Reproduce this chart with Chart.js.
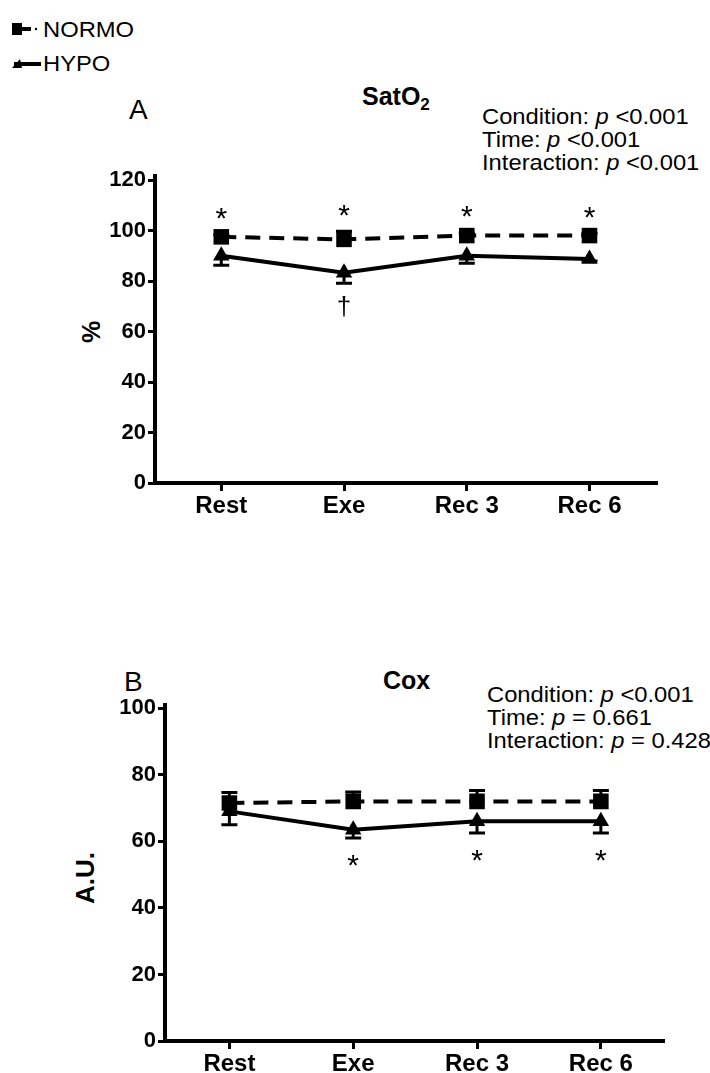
<!DOCTYPE html>
<html><head><meta charset="utf-8">
<script src="https://cdn.jsdelivr.net/npm/chart.js@4.4.0/dist/chart.umd.min.js"></script>
<style>
html,body{margin:0;padding:0;background:#fff}
body{width:710px;height:1073px;position:relative;overflow:hidden;font-family:"Liberation Sans",Arial,sans-serif;color:#000}
.t{position:absolute;white-space:nowrap;line-height:1}
.sx{transform:scaleX(1.08);transform-origin:0 0}
canvas{position:absolute;left:0}
</style></head><body>

<svg style="position:absolute;left:0;top:0" width="45" height="80">
  <rect x="12" y="23" width="10" height="12" fill="#000"/>
  <line x1="22" y1="29" x2="31" y2="29" stroke="#000" stroke-width="4"/>
  <circle cx="36" cy="29" r="1.2" fill="#000"/>
  <polygon points="12,68 20,59 22,68" fill="#000"/>
  <line x1="14" y1="64" x2="41" y2="64" stroke="#000" stroke-width="4"/>
</svg>
<div class="t sx" style="left:43px;top:19px;font-size:22px">NORMO</div>
<div class="t sx" style="left:43px;top:53px;font-size:22px">HYPO</div>

<div class="t" style="left:129px;top:96px;font-size:28px">A</div>
<div class="t" style="left:362px;top:84px;font-size:25px;font-weight:bold">SatO<sub style="font-size:17px;vertical-align:-5px">2</sub></div>
<div class="t sx" style="left:482px;top:105px;font-size:22px;line-height:23px">Condition: <i>p</i> &lt;0.001<br>Time: <i>p</i> &lt;0.001<br>Interaction: <i>p</i> &lt;0.001</div>
<div class="t" style="left:80px;top:332px;font-size:25px;font-weight:bold;transform:translate(0,-50%) rotate(-90deg)">%</div>

<div class="t" style="left:124px;top:668px;font-size:28px">B</div>
<div class="t" style="left:383px;top:668px;font-size:25px;font-weight:bold">Cox</div>
<div class="t sx" style="left:487px;top:683px;font-size:22px;line-height:23px">Condition: <i>p</i> &lt;0.001<br>Time: <i>p</i> = 0.661<br>Interaction: <i>p</i> = 0.428</div>
<div class="t" style="left:59px;top:878px;font-size:26px;font-weight:bold;transform:translate(0,-50%) rotate(-90deg)">A.U.</div>

<canvas id="cA" width="710" height="380" style="top:150px;width:710px;height:380px"></canvas>
<canvas id="cB" width="710" height="383" style="top:690px;width:710px;height:383px"></canvas>

<script>
const categories = ['Rest', 'Exe', 'Rec 3', 'Rec 6'];

const satNormo    = [97.5, 96.5, 98.0, 98.0];
const satNormoErr = [0.8, 3.2, 1.0, 0.8];
const satHypo     = [90.0, 83.3, 90.0, 88.7];
const satHypoErr  = [3.8, 4.2, 3.0, 0.8];
const satTicks    = [0, 20, 40, 60, 80, 100, 120];
const satNormoMarks = ['*', '*', '*', '*'];
const satHypoMarks  = ['', '\u2020', '', ''];

const coxNormo    = [71.5, 72.0, 72.0, 72.0];
const coxNormoErr = [3.2, 2.8, 3.3, 3.3];
const coxHypo     = [69.0, 63.5, 66.0, 66.0];
const coxHypoErr  = [4.0, 2.5, 3.5, 3.5];
const coxTicks    = [0, 20, 40, 60, 80, 100];
const coxNormoMarks = ['', '', '', ''];
const coxHypoMarks  = ['', '*', '*', '*'];

const FONT = '"Liberation Sans", Arial, sans-serif';

const errorBars = {
  id: 'errorBars',
  beforeDatasetsDraw(chart) {
    const ctx = chart.ctx, xs = chart.scales.x, ys = chart.scales.y;
    ctx.save();
    ctx.strokeStyle = '#000';
    ctx.lineWidth = 3;
    chart.data.datasets.forEach(ds => {
      ds.data.forEach((p, i) => {
        const x = xs.getPixelForValue(p.x);
        const y0 = ys.getPixelForValue(p.y);
        const y1 = ys.getPixelForValue(p.y + ds.errDir * ds.errors[i]);
        ctx.beginPath();
        ctx.moveTo(x, y0); ctx.lineTo(x, y1);
        ctx.moveTo(x - 8, y1); ctx.lineTo(x + 8, y1);
        ctx.stroke();
      });
    });
    ctx.restore();
  },
  afterDatasetsDraw(chart) {
    const ctx = chart.ctx, xs = chart.scales.x, ys = chart.scales.y;
    ctx.save();
    ctx.fillStyle = '#000';
    ctx.textAlign = 'center';
    ctx.textBaseline = 'middle';
    chart.data.datasets.forEach(ds => {
      ds.data.forEach((p, i) => {
        const m = ds.marks[i];
        if (!m) return;
        const x = xs.getPixelForValue(p.x);
        const yEdge = ys.getPixelForValue(p.y + ds.errDir * ds.errors[i]);
        let y = yEdge - ds.errDir * 22;
        if (m === '*') { ctx.font = '30px ' + FONT; y += 7; }
        else { ctx.font = '26px ' + FONT; y += 3; }
        ctx.fillText(m, x, y);
      });
    });
    ctx.restore();
  }
};

function toXY(arr) { return arr.map((v, i) => ({ x: i, y: v })); }

function makeChart(id, normo, normoErr, normoMarks, hypo, hypoErr, hypoMarks, ticks, yMax, xMin, xMax, yW, padTop, padRight, xH) {
  return new Chart(document.getElementById(id), {
    type: 'line',
    data: {
      datasets: [
        { label: 'NORMO', data: toXY(normo), errors: normoErr, errDir: 1, marks: normoMarks,
          borderColor: '#000', backgroundColor: '#000', borderWidth: 4, borderDash: [15, 9],
          pointStyle: 'rect', pointRadius: 11, pointBackgroundColor: '#000', pointBorderWidth: 0 },
        { label: 'HYPO', data: toXY(hypo), errors: hypoErr, errDir: -1, marks: hypoMarks,
          borderColor: '#000', backgroundColor: '#000', borderWidth: 4,
          pointStyle: 'triangle', pointRadius: 9.5, pointBackgroundColor: '#000', pointBorderWidth: 0 }
      ]
    },
    options: {
      responsive: false, animation: false, devicePixelRatio: 1,
      layout: { padding: { top: padTop, right: padRight, left: 0, bottom: 0 } },
      plugins: { legend: { display: false }, tooltip: { enabled: false } },
      scales: {
        x: {
          type: 'linear', min: xMin, max: xMax,
          afterBuildTicks: s => { s.ticks = categories.map((c, i) => ({ value: i })); },
          afterFit: s => { s.height = xH; },
          ticks: { callback: v => categories[v], autoSkip: false, maxRotation: 0, padding: 1,
                   color: '#000', font: { family: FONT, size: 24, weight: 'bold' } },
          grid: { drawOnChartArea: false, drawTicks: true, tickLength: 8, tickWidth: 3, color: '#000' },
          border: { display: true, width: 4, color: '#000' }
        },
        y: {
          min: 0, max: yMax,
          afterBuildTicks: s => { s.ticks = ticks.map(v => ({ value: v })); },
          afterFit: s => { s.width = yW; },
          ticks: { padding: 2, color: '#000', font: { family: FONT, size: 22, weight: 'bold' } },
          grid: { drawOnChartArea: false, drawTicks: true, tickLength: 7, tickWidth: 3, color: '#000' },
          border: { display: true, width: 4, color: '#000' }
        }
      }
    },
    plugins: [errorBars]
  });
}

makeChart('cA', satNormo, satNormoErr, satNormoMarks, satHypo, satHypoErr, satHypoMarks,
          satTicks, 121.6, -0.54, 3.55, 155, 26, 53, 47);
makeChart('cB', coxNormo, coxNormoErr, coxNormoMarks, coxHypo, coxHypoErr, coxHypoMarks,
          coxTicks, 100.9, -0.52, 3.51, 165, 10, 46, 32);
</script>
</body></html>
